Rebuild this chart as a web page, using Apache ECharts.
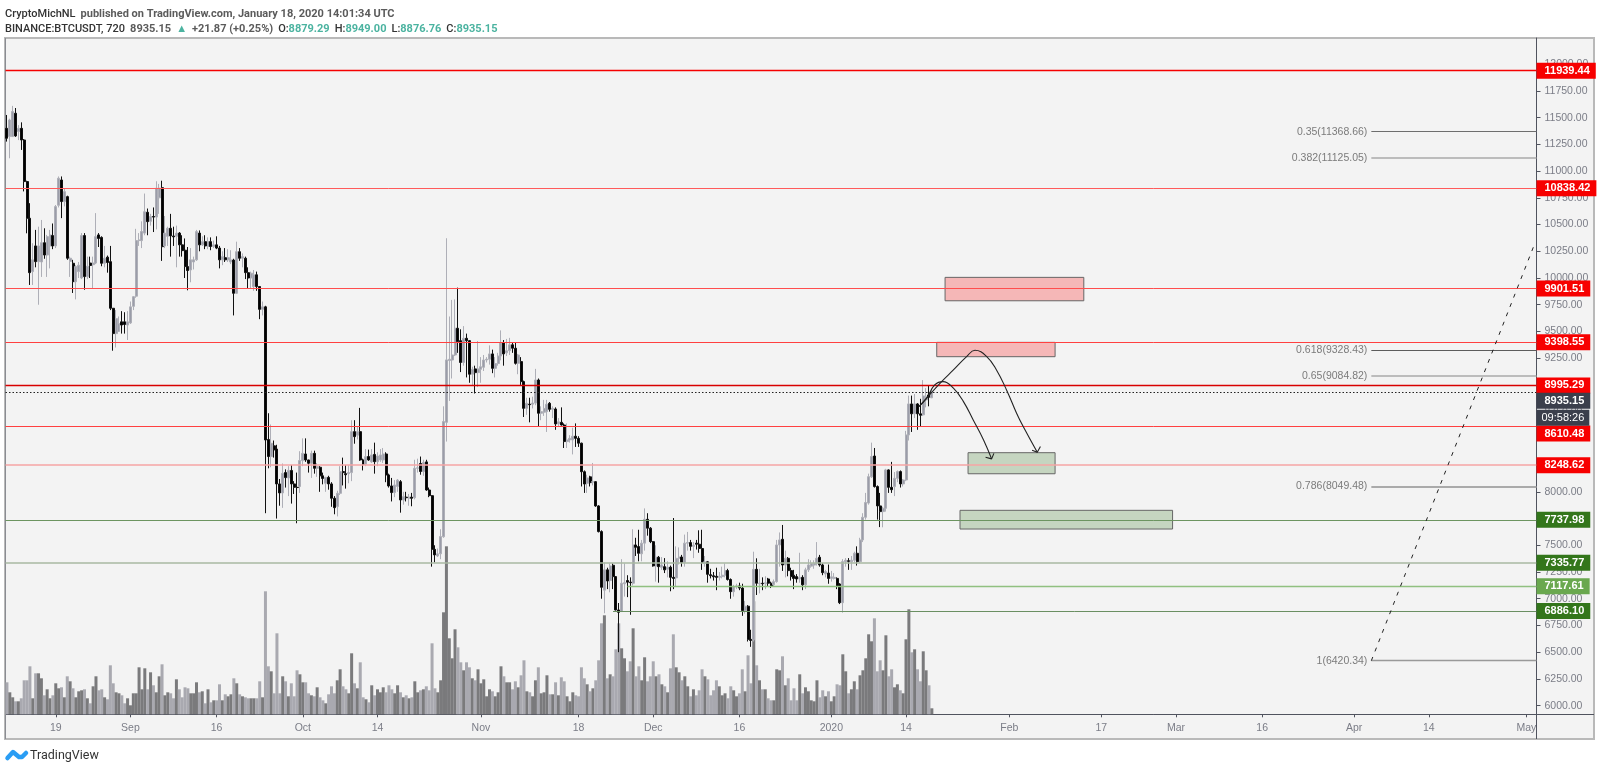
<!DOCTYPE html>
<html><head><meta charset="utf-8">
<style>html,body{margin:0;padding:0;background:#fff}#c{width:1600px;height:771px}</style>
<script src="https://cdn.jsdelivr.net/npm/echarts@6/dist/echarts.min.js"></script>
</head><body><div id="c"></div>
<script>
// 12h candles from 2019-08-10 12:00 UTC: [open, close, low, high]
const candles = [
[11400,11307,11276,11525],[11323,11478,11120,11490],[11323,11557,11320,11610],[11541,11329,11320,11590],[11370,11400,11290,11430],
[11400,11291,11198,11456],[11291,10902,10810,11300],[10902,10559,10418,10910],[10559,10050,9935,10700],[10060,10170,9935,10325],
[10300,10153,10100,10450],[10153,10300,9750,10480],[10150,10330,10010,10543],[10330,10215,10180,10465],[10215,10387,10010,10403],
[10300,10403,10090,10450],[10397,10300,10270,10510],[10300,10668,10280,10683],[10680,10933,10660,10950],[10917,10715,10560,10950],
[10715,10808,10670,10840],[10761,10185,10170,10770],[10155,10185,10010,10200],[10138,9966,9860,10170],[9966,10107,9800,10120],
[10060,10120,10000,10150],[10000,10397,9990,10420],[10397,10013,9890,10420],[10013,10110,9990,10200],[10140,10117,10000,10200],
[10125,10140,9905,10200],[10140,10387,10130,10607],[10403,10370,10290,10420],[10380,10138,10110,10390],[10138,10185,10100,10300],
[10195,10145,10050,10210],[10153,9717,9700,10300],[9717,9480,9320,9720],[9480,9620,9350,9700],[9500,9575,9500,9640],
[9590,9560,9480,9690],[9590,9565,9480,9680],[9560,9590,9420,9690],[9580,9730,9570,9780],[9735,9825,9700,9830],
[9830,10350,9815,10460],[10350,10356,10300,10420],[10350,10435,10280,10530],[10420,10620,10400,10790],[10615,10527,10400,10650],
[10530,10575,10490,10600],[10575,10570,10430,10660],[10570,10840,10455,10905],[10750,10840,10600,10880],[10845,10293,10160,10910],
[10300,10420,10280,10580],[10390,10465,10300,10480],[10465,10394,10200,10600],[10393,10385,10300,10480],[10390,10420,10100,10490],
[10420,10310,10200,10430],[10310,10256,10200,10400],[10260,10107,10000,10370],[10107,10070,9885,10290],[10075,10170,9960,10280],
[10150,10170,10080,10200],[10170,10434,10160,10450],[10420,10310,10250,10445],[10310,10340,10300,10390],[10340,10300,10270,10400],
[10295,10340,10270,10380],[10340,10295,10260,10380],[10295,10310,10280,10350],[10310,10280,10270,10390],[10280,10170,10090,10300],
[10170,10200,10120,10250],[10190,10170,10150,10280],[10170,10190,10150,10270],[10150,10170,10130,10260],[10168,9857,9650,10180],
[9857,10246,9850,10340],[10246,10185,10160,10280],[10185,10200,10100,10230],[10185,10050,9990,10200],[10050,10000,9900,10100],
[10000,10045,9905,10060],[9920,10030,9880,10075],[10030,9920,9880,10060],[9920,9707,9615,9925],[9707,9730,9650,9780],
[9730,8485,7800,9740],[8490,8330,8220,8735],[8330,8454,8230,8630],[8430,8392,8320,8480],[8400,8074,7750,8440],
[8074,7990,7870,8120],[7990,8173,7850,8265],[8180,8133,8040,8210],[8130,8200,7960,8240],[8200,8074,7890,8250],
[8074,8042,7980,8100],[8042,8040,7706,8180],[8050,8292,7990,8380],[8292,8360,8240,8500],[8354,8298,8280,8500],
[8298,8267,8180,8300],[8267,8360,8130,8385],[8360,8220,8170,8385],[8220,8235,8140,8270],[8230,8150,8000,8240],
[8150,8125,8070,8180],[8080,8135,8000,8140],[8135,8074,8020,8150],[8074,7940,7860,8090],[7940,7852,7790,7960],
[7862,7986,7770,8010],[7986,8189,7970,8240],[8189,8180,8060,8320],[8170,8160,8030,8250],[8170,8180,8080,8250],
[8180,8563,8100,8670],[8563,8516,8450,8670],[8530,8563,8490,8610],[8563,8298,8290,8785],[8298,8258,8200,8310],
[8258,8329,8240,8400],[8330,8298,8290,8395],[8280,8345,8270,8400],[8350,8282,8170,8460],[8282,8335,8240,8370],
[8298,8345,8280,8400],[8298,8354,8270,8410],[8354,8158,8090,8370],[8158,8055,8040,8170],[8055,7993,7910,8130],
[7993,8064,7950,8110],[8050,8110,8000,8120],[8095,7924,7805,8110],[7924,7955,7880,8000],[7950,7945,7910,8000],
[7940,7950,7870,7980],[7950,7940,7865,7990],[7945,8220,7930,8300],[8220,8225,8180,8310],[8265,8190,8160,8330],
[8190,8275,8150,8300],[8280,8017,8010,8300],[8017,7964,7950,8040],[7964,7462,7300,7970],[7462,7410,7340,7500],
[7400,7420,7390,7470],[7420,7581,7370,7650],[7580,8657,7570,8800],[8650,9234,8470,10372],[9228,9240,8850,9640],
[9233,9280,9060,9795],[9280,9530,9270,9800],[9530,9405,9300,9910],[9414,9210,9120,9520],[9210,9436,9180,9550],
[9436,9414,9070,9480],[9414,9100,9020,9420],[9100,9146,8990,9170],[9150,9115,8920,9180],[9115,9150,8980,9410],
[9146,9170,9020,9260],[9165,9233,9130,9280],[9233,9240,9210,9260],[9240,9290,9190,9370],[9290,9155,9110,9330],
[9155,9200,9070,9260],[9200,9270,9180,9300],[9270,9395,9230,9510],[9395,9290,9180,9420],[9300,9320,9270,9430],
[9320,9375,9280,9440],[9375,9343,9300,9400],[9343,9202,9190,9395],[9202,9280,9100,9290],[9218,9031,9000,9260],
[9031,8781,8700,9040],[8781,8828,8720,8880],[8820,8815,8650,8880],[8820,8830,8780,8890],[8830,9046,8810,9150],
[9046,8735,8610,9060],[8735,8750,8670,8800],[8745,8780,8710,8860],[8750,8819,8560,8860],[8828,8772,8750,8840],
[8772,8780,8690,8800],[8775,8635,8580,8790],[8635,8655,8610,8690],[8650,8625,8620,8790],[8625,8470,8410,8640],
[8470,8485,8410,8640],[8485,8500,8460,8530],[8485,8520,8350,8600],[8520,8500,8420,8640],[8500,8455,8420,8520],
[8455,8188,8050,8460],[8188,8073,7990,8200],[8080,8130,7990,8160],[8140,8086,8050,8150],[8090,8095,8060,8270],
[8095,7868,7860,8100],[7868,7628,7620,7875],[7628,7107,7000,7640],[7080,7270,6864,7340],[7270,7166,7090,7290],
[7170,7307,7060,7330],[7313,7207,7090,7330],[7207,6895,6890,7210],[6895,6873,6500,6960],[6880,7145,6880,7370],
[7140,7150,7020,7330],[7170,7155,7015,7220],[7155,7150,6850,7200],[7145,7503,7125,7650],[7503,7481,7400,7570],
[7488,7425,7350,7645],[7420,7520,7350,7550],[7520,7743,7450,7845],[7743,7660,7590,7800],[7660,7534,7520,7670],
[7534,7307,7300,7540],[7307,7388,7160,7500],[7388,7300,7150,7400],[7294,7316,7270,7390],[7300,7270,7240,7380],
[7276,7295,7200,7350],[7295,7200,7070,7310],[7200,7190,7090,7755],[7195,7378,7110,7490],[7378,7390,7320,7480],
[7390,7340,7300,7410],[7340,7520,7300,7600],[7520,7525,7450,7625],[7525,7490,7450,7550],[7490,7500,7380,7530],
[7520,7510,7460,7550],[7510,7470,7430,7640],[7470,7340,7270,7645],[7330,7345,7300,7400],[7345,7228,7150,7350],
[7225,7215,7190,7280],[7215,7205,7170,7250],[7210,7200,7080,7290],[7200,7210,7170,7250],[7207,7220,7190,7300],
[7220,7263,7200,7330],[7263,7180,7170,7280],[7180,7066,7000,7190],[7066,7113,7020,7130],[7110,7120,7090,7140],
[7120,7100,7080,7150],[7100,6889,6840,7140],[6889,6930,6860,6980],[6930,6620,6600,6940],[6620,6610,6550,6710],
[6615,7275,6600,7440],[7275,7145,7035,7378],[7140,7145,7050,7280],[7145,7140,7080,7200],[7140,7150,7090,7210],
[7185,7145,7110,7195],[7145,7120,7100,7160],[7130,7160,7110,7180],[7160,7503,7150,7550],[7503,7550,7300,7620],
[7556,7316,7260,7690],[7316,7378,7200,7450],[7378,7263,7210,7390],[7263,7207,7170,7290],[7220,7190,7090,7270],
[7207,7185,7150,7230],[7185,7200,7150,7430],[7200,7130,7080,7220],[7130,7270,7090,7290],[7270,7316,7250,7370],
[7305,7330,7290,7360],[7315,7330,7280,7360],[7330,7378,7310,7530],[7388,7316,7300,7410],[7316,7244,7220,7330],
[7232,7254,7200,7270],[7240,7190,7140,7320],[7190,7205,7160,7260],[7190,7200,7180,7240],[7190,7120,7090,7200],
[7138,6963,6950,7145],[6963,7347,6870,7370],[7347,7360,7300,7380],[7355,7350,7270,7380],[7345,7360,7270,7400],
[7360,7425,7340,7440],[7425,7347,7310,7490],[7347,7550,7330,7570],[7550,7762,7530,7800],[7762,7900,7740,7990],
[7895,8142,7880,8170],[8140,8330,8130,8460],[8335,8049,8040,8410],[8049,7868,7740,8060],[7868,7815,7670,7990],
[7815,7846,7668,7860],[7846,8205,7815,8215],[8205,8042,7990,8210],[8042,8020,7990,8280],[8049,8126,7960,8185],
[8126,8189,8090,8200],[8189,8074,8040,8200],[8074,8111,8050,8120],[8111,8532,8100,8570],[8532,8822,8480,8900],
[8822,8730,8560,8900],[8730,8822,8690,8915],[8822,8730,8580,8830],[8730,8716,8610,8870],[8720,8897,8710,9045],
[8860,8890,8790,8970],[8906,8884,8800,8990],[8879.29,8935.15,8876.76,8949]
];
const volumes = [
32,22,17,13,13,16,34,34,48,16,41,41,36,19,25,16,19,31,26,27,17,38,33,26,17,23,24,25,16,11,
28,38,24,25,17,15,49,31,22,21,19,11,16,9,21,21,47,25,46,25,42,29,22,38,50,19,22,21,16,35,
25,17,27,26,21,21,32,22,23,11,25,12,14,14,30,14,20,18,20,36,31,20,18,17,16,16,16,16,33,17,
123,48,43,21,81,21,38,33,18,31,18,44,40,32,32,21,19,18,27,17,14,11,20,28,21,34,45,28,25,21,
61,31,26,52,17,15,12,29,19,25,22,27,22,29,25,21,29,22,17,19,16,17,33,22,24,25,28,24,71,26,
22,34,102,168,76,56,85,67,52,44,52,47,36,34,45,31,35,18,25,23,18,22,48,38,32,32,25,33,27,39,
54,23,22,18,34,47,21,22,39,20,20,32,19,37,33,18,13,22,19,18,47,36,30,23,26,34,54,91,99,36,
40,38,65,91,66,56,43,53,86,38,48,34,57,33,38,53,38,40,30,28,22,46,80,47,42,34,38,28,18,25,
19,24,45,38,35,19,24,34,28,19,21,16,28,24,18,21,45,23,59,31,113,49,34,25,25,16,14,14,45,44,
58,29,36,14,26,14,40,21,27,23,14,13,34,17,24,18,23,13,18,30,29,60,43,21,25,33,25,39,44,56,
80,73,96,43,54,44,79,38,45,27,30,24,21,75,105,62,65,45,33,63,44,29,6
];
const timeTicks = [['2019-08-19','19'],['2019-09-01','Sep'],['2019-09-16','16'],['2019-10-01','Oct'],['2019-10-14','14'],['2019-11-01','Nov'],['2019-11-18','18'],['2019-12-01','Dec'],['2019-12-16','16'],['2020-01-01','2020'],['2020-01-14','14'],['2020-02-01','Feb'],['2020-02-17','17'],['2020-03-01','Mar'],['2020-03-16','16'],['2020-04-01','Apr'],['2020-04-14','14'],['2020-05-01','May']];
const priceTicks = [6000,6250,6500,6750,7000,7250,7500,7750,8000,8250,8500,8750,9000,9250,9500,9750,10000,10250,10500,10750,11000,11250,11500,11750,12000];
// level, colour, width, tag colour, first bar, tag offset
const redLevels = [[11939.44,'#f50000',1.4],[10838.42,'#ff5a5a',1],[9901.51,'#ff4d4d',1],[9398.55,'#ff4040',1],[8995.29,'#d80000',1.4],[8610.48,'#ff4040',1,'',-0.5,7],[8248.62,'#f6a5a5',1.6]];
const greenLevels = [[7737.98,'#6c9460',1,'#33761b',-0.5],[7335.77,'#a9b8a2',1.6,'#33761b',-0.5],[7117.61,'#90c080',1.4,'#6aa84f',216],[6886.10,'#6a8f62',1,'#33761b',211]];
const fibLevels = [['0.35(11368.66)',11368.66,'#6e6e6e',1],['0.382(11125.05)',11125.05,'#aaaaaa',1.6],['0.618(9328.43)',9328.43,'#5c5c5c',1],['0.65(9084.82)',9084.82,'#aaaaaa',1.6],['0.786(8049.48)',8049.48,'#aaaaaa',1.8],['1(6420.34)',6420.34,'#999999',1.4]];
const fibStartBar = 475, lastBar = 532.5;
const fibDiagonal = [[475,6420.34],[531.7,10309]];
const lastPrice = 8935.15;
// rectangles: bar from, bar to, price top, price bottom
const pinkZones = [[326.6,374.9,10006,9787],[323.7,364.9,9398,9264]];
const greenZones = [[334.6,364.9,8366,8169],[331.8,405.8,7827,7652]];
// hand-drawn arrows: [bar index, price]
const arrowA = [[317.5,8797],[320.2,8875],[323,9000],[325.9,9031],[329.5,8969],[333,8844],[336.4,8672],[340,8485],[342.8,8308]];
const arrowB = [[317.5,8797],[325.4,9031],[329.5,9140],[334.1,9265],[337,9324],[341.1,9265],[344.5,9140],[348,8953],[351.5,8735],[353.8,8610],[358.7,8370]];
const arrowHeadA = [[340.7,8323],[342.8,8308],[343.6,8360]];
const arrowHeadB = [[356.9,8389],[358.7,8370],[359.8,8423]];

const pad = n => String(n).padStart(2,'0');
const startMs = Date.UTC(2019,7,10,12), categories = [];
for (let i = 0; i < 533; i++) { const d = new Date(startMs + i*43200000);
  categories.push(d.getUTCFullYear()+'-'+pad(d.getUTCMonth()+1)+'-'+pad(d.getUTCDate())+' '+pad(d.getUTCHours())); }
const tickMap = {}; timeTicks.forEach(t => tickMap[t[0]+' 00'] = t[1]);
const isTick = (i, v) => tickMap[v] !== undefined;
const FONT = '"Liberation Sans", Arial, sans-serif', HEAD = 'Roboto, sans-serif';
const tag = (bg, extra) => Object.assign({show:true, position:'end', distance:0, color:'#fff', fontWeight:'bold', fontSize:11, fontFamily:FONT,
  backgroundColor:bg, padding:[3,6,2,8]}, extra||{});
const hline = (v, from, color, width, label, type) => [
  {xAxis:from, yAxis:v, lineStyle:{color, width, type:type||'solid'}, label},
  {xAxis:lastBar, yAxis:v}];
const levelLines = [];
redLevels.forEach(l => levelLines.push(hline(l[0], l[4]===undefined?-0.5:l[4], l[1], l[2],
  tag('#f70000',{formatter:l[0].toFixed(2), offset:[0,l[5]||0]}))));
greenLevels.forEach(l => levelLines.push(hline(l[0], l[4], l[1], l[2], tag(l[3],{formatter:l[0].toFixed(2)}))));
levelLines.push(hline(lastPrice,lastBar-1,'rgba(0,0,0,0)',0,tag('#3b3f4c',{formatter:'09:58:26',offset:[0,26],fontWeight:'normal',padding:[3,5,2,5]})));
levelLines.push(hline(lastPrice,-0.5,'#222',1,tag('#3b3f4c',{formatter:lastPrice.toFixed(2),offset:[0,9]}),[1.5,2]));
fibLevels.forEach(f => levelLines.push(hline(f[1],fibStartBar,f[2],f[3],
  {show:true,position:'start',distance:4,color:'#7b7b7b',fontSize:10.5,fontFamily:FONT,formatter:f[0]})));
levelLines.push([{xAxis:fibDiagonal[0][0],yAxis:fibDiagonal[0][1],lineStyle:{color:'#222',width:1,type:[4,6]},label:{show:false}},
                 {xAxis:fibDiagonal[1][0],yAxis:fibDiagonal[1][1]}]);
const zone = (z, fill) => [{xAxis:z[0],yAxis:z[2],itemStyle:{color:fill,borderColor:'#666',borderWidth:1}},{xAxis:z[1],yAxis:z[3]}];
const annot = {xAxisIndex:1,yAxisIndex:0,type:'line',showSymbol:false,symbol:'none',silent:true,animation:false,lineStyle:{color:'#222',width:1.1}};
const grey='#7b7d87', axisCol='#50535e';

const chart = echarts.init(document.getElementById('c'),null,{renderer:'canvas'});
const headRich = {b:{fontWeight:500,fontSize:11,color:'#333',fontFamily:HEAD},g:{fontSize:11,color:'#5b5b5b',fontFamily:HEAD},t:{fontSize:11,color:'#4bb3a0',fontFamily:HEAD}};
chart.setOption({
  animation:false, backgroundColor:'#fff',
  textStyle:{fontFamily:FONT},
  title:[
   {left:5,top:5,padding:0,text:'{b|CryptoMichNL} {g|published on TradingView.com, January 18, 2020 14:01:34 UTC}',textStyle:{rich:headRich}},
   {left:5,top:20,padding:0,text:'{b|BINANCE:BTCUSDT, 720} {g|8935.15} {t|▲} {g|+21.87 (+0.25%)} {b|O:}{t|8879.29} {b|H:}{t|8949.00} {b|L:}{t|8876.76} {b|C:}{t|8935.15}',textStyle:{rich:headRich}}
  ],
  graphic:[
   {type:'rect',z:-10,shape:{x:5,y:38,width:1589,height:701},style:{fill:'#f3f3f3',stroke:'#b9b9b9',lineWidth:2}},
   {type:'line',z:1,shape:{x1:5.5,y1:38,x2:5.5,y2:739},style:{stroke:'#8a8c92',lineWidth:1}},
   {type:'line',z:1,shape:{x1:1536.5,y1:714,x2:1536.5,y2:739},style:{stroke:axisCol,lineWidth:1}},
   {type:'line',z:1,shape:{x1:1536,y1:714.5,x2:1594,y2:714.5},style:{stroke:axisCol,lineWidth:1}},
   {type:'polyline',z:1,shape:{points:[[7.5,758],[13,752],[19,757],[22,757],[26,753]]},style:{fill:null,stroke:'#2a9df4',lineWidth:4.5,lineJoin:'round',lineCap:'round'}},
   {type:'text',z:1,x:30,y:749,style:{text:'TradingView',fontSize:12.5,fontFamily:HEAD,fill:'#333'}}
  ],
  grid:{left:5.5,top:38,width:1531,height:676.3,containLabel:false},
  xAxis:[
   {type:'category',data:categories,boundaryGap:true,
    axisLine:{show:true,onZero:false,lineStyle:{color:axisCol}},
    axisTick:{show:true,length:3,alignWithLabel:true,interval:isTick,lineStyle:{color:axisCol}},
    axisLabel:{show:true,interval:isTick,formatter:v=>tickMap[v]||'',color:grey,fontSize:10.5,fontFamily:FONT,margin:8,hideOverlap:false},
    splitLine:{show:false}},
   {type:'value',min:-0.5,max:lastBar,show:false,splitLine:{show:false}}
  ],
  yAxis:[
   {type:'value',position:'right',min:5919,max:12245,scale:true,
    axisLine:{show:true,onZero:false,lineStyle:{color:axisCol}},
    axisTick:{show:true,length:4,customValues:priceTicks,lineStyle:{color:axisCol}},
    axisLabel:{show:true,customValues:priceTicks,formatter:v=>Number(v).toFixed(2),color:grey,fontSize:10.5,fontFamily:FONT,margin:8},
    splitLine:{show:false}},
   {type:'value',min:0,max:676.3,show:false,splitLine:{show:false}}
  ],
  series:[
   {type:'bar',xAxisIndex:0,yAxisIndex:1,barWidth:3,silent:true,z:1,
    data:volumes.map((v,i)=>({value:v,itemStyle:{color:candles[i][1]>=candles[i][0]?'#7a7a7c':'#a9a9b0'}}))},
   {type:'candlestick',xAxisIndex:0,yAxisIndex:0,barWidth:2.5,silent:true,z:3,data:candles,
    itemStyle:{color:'#9a9ca8',color0:'#000',borderColor:'#aeafb7',borderColor0:'#111',borderWidth:1}},
   Object.assign({},annot,{name:'arrowA',data:arrowA,smooth:0.45,z:6,
    markLine:{silent:true,symbol:'none',animation:false,precision:2,data:levelLines},
    markArea:{silent:true,animation:false,data:[...pinkZones.map(z=>zone(z,'rgba(248,100,100,0.42)')),...greenZones.map(z=>zone(z,'rgba(80,135,60,0.28)'))]}}),
   Object.assign({},annot,{name:'arrowB',data:arrowB,smooth:0.45,z:6}),
   Object.assign({},annot,{name:'headA',data:arrowHeadA,z:6}),
   Object.assign({},annot,{name:'headB',data:arrowHeadB,z:6})
  ]
});
</script></body></html>
